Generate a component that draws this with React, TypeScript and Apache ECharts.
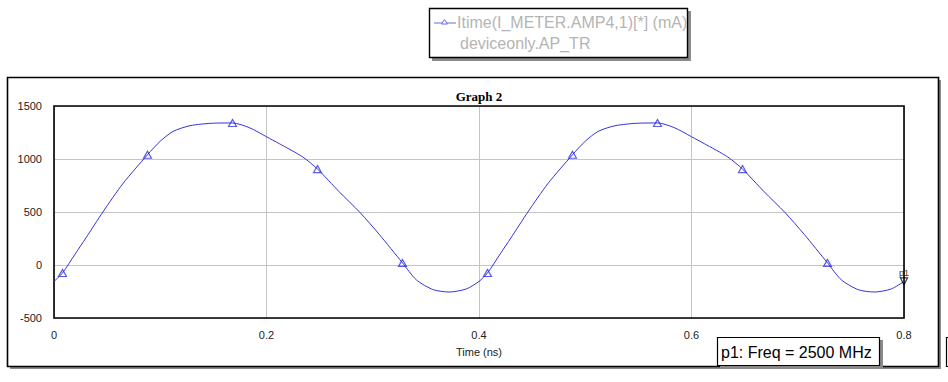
import React, { useEffect, useRef } from "react";
import * as echarts from "echarts";

const times = [
  0, 0.008, 0.02, 0.03, 0.046, 0.065, 0.088, 0.1, 0.112, 0.128, 0.15, 0.168, 0.184, 0.2, 0.212, 0.234, 0.248,
  0.268, 0.288, 0.306, 0.328, 0.341, 0.357, 0.372, 0.388,
  0.4, 0.408, 0.42, 0.43, 0.446, 0.465, 0.488, 0.5, 0.512, 0.528, 0.55, 0.568, 0.584, 0.6, 0.612, 0.634, 0.648,
  0.668, 0.688, 0.706, 0.728, 0.741, 0.757, 0.772, 0.788, 0.8,
];
const current = [
  -155, -75, 105, 255, 500, 770, 1040, 1168, 1260, 1314, 1338, 1340, 1295, 1210, 1145, 1020, 905,
  695, 495, 290, 20, -140, -233, -255, -226,
  -155, -75, 105, 255, 500, 770, 1040, 1168, 1260, 1314, 1338, 1340, 1295, 1210, 1145, 1020, 905,
  695, 495, 290, 20, -140, -233, -255, -226, -155,
];
const markerTimes = [0.008, 0.088, 0.168, 0.248, 0.328, 0.408, 0.488, 0.568, 0.648, 0.728];
const markerValues = [-75, 1040, 1340, 905, 20, -75, 1040, 1340, 905, 20];
const p1Point = [0.8, -155];
const legendLines = ["Itime(I_METER.AMP4,1)[*] (mA)", "deviceonly.AP_TR"];
const chartTitle = "Graph 2";
const xName = "Time (ns)";
const annotation = "p1: Freq = 2500 MHz";

const BLUE = "#3333dd";
const SANS = "'Liberation Sans', Arial, sans-serif";

export default function App() {
  const ref = useRef<HTMLDivElement>(null);
  useEffect(() => {
    if (!ref.current) return;
    const chart = echarts.init(ref.current, undefined, { renderer: "svg" });
    chart.setOption({
      animation: false,
      backgroundColor: "#fff",
      grid: {
        left: 54,
        top: 106,
        right: 44,
        bottom: 64,
        show: true,
        borderColor: "#000",
        borderWidth: 1.6,
        backgroundColor: "transparent",
        z: 1,
      },
      xAxis: {
        type: "value",
        min: 0,
        max: 0.8,
        interval: 0.2,
        name: xName,
        nameLocation: "middle",
        nameGap: 28,
        nameTextStyle: { fontFamily: SANS, fontSize: 11, color: "#222" },
        axisLine: { show: false },
        axisTick: { show: false },
        axisLabel: { fontFamily: SANS, fontSize: 11, color: "#222", margin: 11, formatter: (v: number) => String(v) },
        splitLine: { show: true, lineStyle: { color: "#c4c4c4", width: 1 } },
      },
      yAxis: {
        type: "value",
        min: -500,
        max: 1500,
        interval: 500,
        axisLine: { show: false },
        axisTick: { show: false },
        axisLabel: { fontFamily: SANS, fontSize: 11, color: "#222", margin: 12, formatter: (v: number) => String(v) },
        splitLine: { show: true, lineStyle: { color: "#c4c4c4", width: 1 } },
      },
      series: [
        {
          type: "line",
          data: times.map((t, i) => [t, current[i]]),
          smooth: 0.25,
          showSymbol: false,
          lineStyle: { color: BLUE, width: 1 },
          z: 3,
        },
        {
          type: "scatter",
          data: markerTimes.map((t, i) => [t, markerValues[i]]),
          symbol: "triangle",
          symbolSize: [8, 7],
          itemStyle: { color: "rgba(0,0,0,0)", borderColor: BLUE, borderWidth: 1.2 },
          z: 4,
        },
        {
          type: "scatter",
          data: [p1Point],
          symbol: "triangle",
          symbolRotate: 180,
          symbolSize: [7, 7],
          clip: false,
          itemStyle: { color: "rgba(0,0,0,0)", borderColor: "#000", borderWidth: 1.2 },
          label: {
            show: true,
            formatter: "p1",
            position: "top",
            distance: 0,
            fontFamily: SANS,
            fontSize: 9,
            color: "#000",
          },
          z: 5,
        },
      ],
      graphic: [
        { type: "rect", z: -10, shape: { x: 10, y: 80, width: 931, height: 289 }, style: { fill: "#8a8a8a" } },
        { type: "rect", z: -9, shape: { x: 7.5, y: 77.5, width: 931, height: 289 }, style: { fill: "#fff", stroke: "#000", lineWidth: 1.6 } },
        {
          type: "text",
          z: 10,
          x: 479,
          y: 96,
          style: { text: chartTitle, fill: "#000", font: "bold 13px 'Liberation Serif', 'Times New Roman', serif", textAlign: "center", textVerticalAlign: "middle" },
        },
        { type: "rect", z: 10, shape: { x: 432, y: 11, width: 259, height: 50 }, style: { fill: "#8a8a8a" } },
        { type: "rect", z: 11, shape: { x: 429.5, y: 8.5, width: 258, height: 49 }, style: { fill: "#fff", stroke: "#000", lineWidth: 1.4 } },
        { type: "line", z: 12, shape: { x1: 434, y1: 23, x2: 456, y2: 23 }, style: { stroke: "#6a6ae0", lineWidth: 1 } },
        { type: "polygon", z: 12, shape: { points: [[444.5, 19.5], [441.5, 24], [447.5, 24]] }, style: { fill: "#fff", stroke: "#6a6ae0", lineWidth: 1 } },
        {
          type: "text",
          z: 12,
          x: 457,
          y: 22,
          style: { text: legendLines[0], fill: "#b4b4b4", font: `16px ${SANS}`, textVerticalAlign: "middle" },
        },
        {
          type: "text",
          z: 12,
          x: 460,
          y: 43,
          style: { text: legendLines[1], fill: "#b4b4b4", font: `16px ${SANS}`, textVerticalAlign: "middle" },
        },
        { type: "rect", z: 12, shape: { x: 720, y: 340, width: 163, height: 29 }, style: { fill: "#8a8a8a" } },
        { type: "rect", z: 13, shape: { x: 717.5, y: 337.5, width: 162, height: 28 }, style: { fill: "#fff", stroke: "#000", lineWidth: 1.2 } },
        {
          type: "text",
          z: 14,
          x: 721,
          y: 352,
          style: { text: annotation, fill: "#000", font: `16px ${SANS}`, textVerticalAlign: "middle" },
        },
        { type: "rect", z: 13, shape: { x: 946.5, y: 337.5, width: 20, height: 29 }, style: { fill: "#fff", stroke: "#000", lineWidth: 1.2 } },
      ],
    });
    return () => chart.dispose();
  }, []);
  return <div ref={ref} style={{ position: "fixed", left: 0, top: 0, width: 948, height: 382 }} />;
}
